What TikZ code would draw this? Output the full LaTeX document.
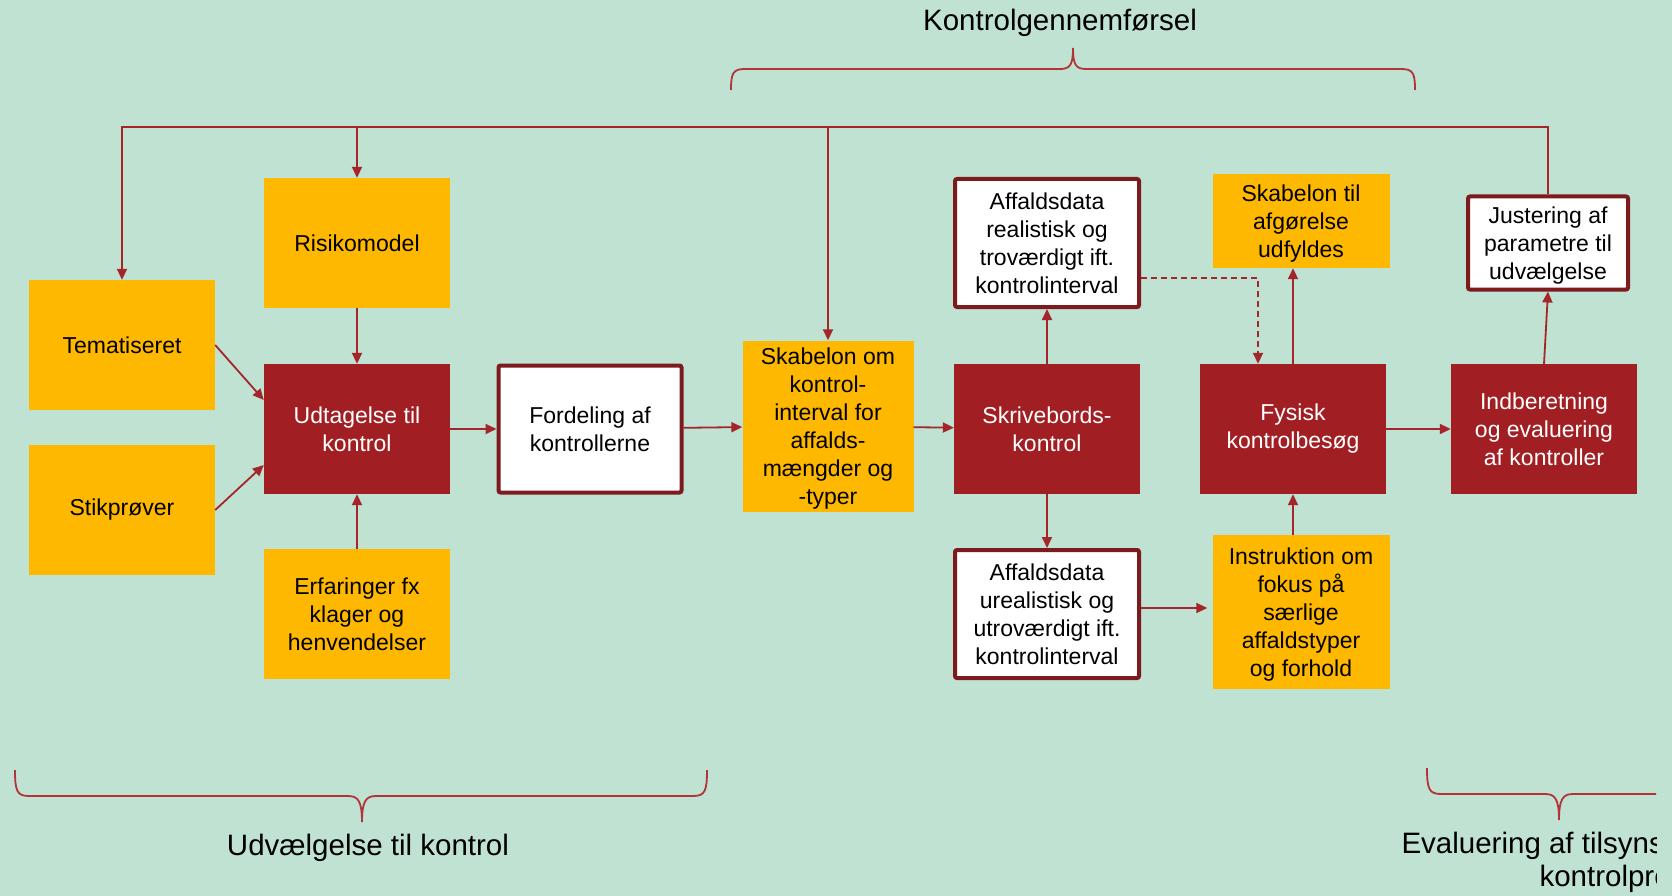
\documentclass[tikz,border=0pt]{standalone}
\usepackage{fontspec}
\setmainfont{Liberation Sans}
\usepackage{tikz}
\usetikzlibrary{arrows.meta}

\definecolor{mint}{RGB}{192,226,211}
\definecolor{boxorange}{RGB}{255,184,0}
\definecolor{boxred}{RGB}{161,31,35}
\definecolor{frame}{RGB}{125,26,30}
\definecolor{linkred}{RGB}{165,38,42}
\definecolor{bracered}{RGB}{178,52,58}

\begin{document}
\begin{tikzpicture}[x=1pt, y=-1pt,
        box/.style={align=center, inner sep=2pt, font=\fontsize{23}{28}\selectfont,
            minimum width=186pt, minimum height=130pt},
        orangebox/.style={box, fill=boxorange, text=black},
        redbox/.style={box, fill=boxred, text=white},
        whitebox/.style={box, fill=white, draw=frame, line width=4pt, rounded corners=2pt,
            minimum width=184pt, minimum height=128pt},
        lowtext/.style={text depth=-5pt},
        arr/.style={draw=linkred, line width=1.8pt, -{Triangle[length=11pt, width=10pt]}},
        brace/.style={draw=bracered, line width=1.8pt},
        caption/.style={font=\fontsize{29.5}{33}\selectfont, text=black}]

        \useasboundingbox (0,0) rectangle (1672,896);
        \fill[mint] (0,0) rectangle (1672,896);
        \clip (0,0) rectangle (1656,896);

        % Udvaelgelse
        \node[orangebox] (tema) at (122, 345) {Tematiseret};
        \node[orangebox] (stik) at (122, 510) {Stikprøver};
        \node[orangebox] (risk) at (357, 243) {Risikomodel};
        \node[redbox] (udt) at (357, 429) {Udtagelse til\\kontrol};
        \node[orangebox] (erf) at (357, 614) {Erfaringer fx\\klager og\\henvendelser};
        \node[whitebox, minimum width=183pt, minimum height=127pt] (ford) at (590, 429) {Fordeling af\\kontrollerne};

        % Kontrolgennemfoersel
        \node[orangebox, lowtext, minimum width=171pt, minimum height=171pt] (skab) at (828, 426)
            {Skabelon om\\kontrol-\\interval for\\affalds-\\mængder og\\-typer};
        \node[redbox] (skriv) at (1047, 429) {Skrivebords-\\kontrol};
        \node[whitebox] (real) at (1047, 243) {Affaldsdata\\realistisk og\\troværdigt ift.\\kontrolinterval};
        \node[whitebox] (ureal) at (1047, 614) {Affaldsdata\\urealistisk og\\utroværdigt ift.\\kontrolinterval};
        \node[orangebox, lowtext, minimum width=177pt, minimum height=94pt] (afg) at (1301, 221) {Skabelon til\\afgørelse\\udfyldes};
        \node[redbox] (fys) at (1293, 429) {Fysisk\\kontrolbesøg};
        \node[orangebox, lowtext, minimum width=177pt, minimum height=154pt] (instr) at (1301, 612)
            {Instruktion om\\fokus på\\særlige\\affaldstyper\\og forhold};

        % Evaluering
        \node[redbox] (indb) at (1544, 429) {Indberetning\\og evaluering\\af kontroller};
        \node[whitebox, lowtext, minimum width=160pt, minimum height=93pt] (just) at (1548, 243) {Justering af\\parametre til\\udvælgelse};

        \coordinate (top) at (0, 127);

        \draw[arr] (just.north) |- (tema.north |- top) -- (tema.north);
        \draw[arr] (risk.north |- top) -- (risk.north);
        \draw[arr] (skab.north |- top) -- (skab.north);

        \draw[arr] (tema.east) -- ([yshift=29pt]udt.west);
        \draw[arr] (stik.east) -- ([yshift=-36pt]udt.west);
        \draw[arr] (risk) -- (udt);
        \draw[arr] (erf) -- (udt);
        \draw[arr] (udt) -- (ford);
        \draw[arr] (ford) -- (skab);
        \draw[arr] (skab) -- (skriv);
        \draw[arr] (skriv) -- (real);
        \draw[arr] (skriv) -- (ureal);
        \draw[arr, dashed, dash pattern=on 6pt off 4pt] ([yshift=-35pt]real.east) -| ([xshift=-35pt]fys.north);
        \draw[arr] (fys.north) -- (afg.south -| fys.north);
        \draw[arr] (ureal.east |- 0,608) -- ([xshift=-5pt]instr.west |- 0,608);
        \draw[arr] (fys.south |- instr.north) -- (fys.south);
        \draw[arr] (fys) -- (indb);
        \draw[arr] (indb.north) -- (just.south);

        % braces
        \draw[brace] (731,90) .. controls (731,73) and (733,69) .. (745,69) -- (1060,69)
            .. controls (1070,69) and (1073,65) .. (1073,48)
            .. controls (1073,65) and (1076,69) .. (1086,69) -- (1401,69)
            .. controls (1413,69) and (1415,73) .. (1415,90);
        \draw[brace] (15,770) .. controls (15,791) and (17,796) .. (29,796) -- (348,796)
            .. controls (358,796) and (362,801) .. (362,822)
            .. controls (362,801) and (366,796) .. (376,796) -- (693,796)
            .. controls (705,796) and (707,791) .. (707,770);
        \draw[brace] (1427,768) .. controls (1427,789) and (1429,794) .. (1441,794) -- (1545,794)
            .. controls (1555,794) and (1559,799) .. (1559,820)
            .. controls (1559,799) and (1563,794) .. (1573,794) -- (1700,794);

        \node[caption] (kg) at (1060, 23) {Kontrolgennemførsel};
        \node[caption] (uk) at (368, 848) {Udvælgelse til kontrol};
        \node[caption, anchor=west] (ev1) at (1398, 846) {Evaluering af tilsyns- og};
        \node[caption, anchor=west] (ev2) at (1536, 879) {kontrolprocessen};

    \end{tikzpicture}
\end{document}
